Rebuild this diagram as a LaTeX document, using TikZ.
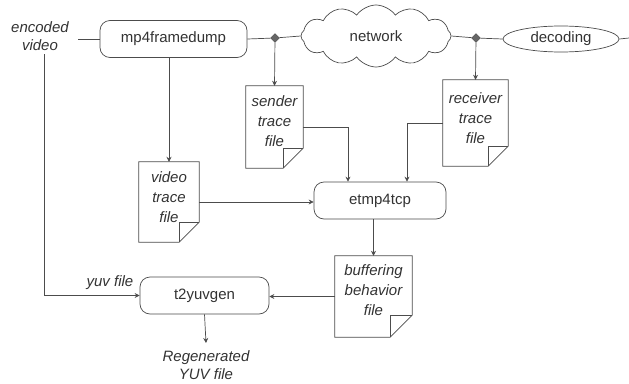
\documentclass[tikz,border=0pt]{standalone}
\usepackage{fontspec}
\setmainfont{Liberation Sans}
\usetikzlibrary{shapes.geometric,shapes.symbols,arrows.meta}
\begin{document}
\begin{tikzpicture}[x=1pt,y=-1pt,
  every node/.style={text=black!80, font=\fontsize{15}{19}\selectfont},
  ln/.style={draw=black!70, line width=0.7pt},
  arr/.style={ln, -{Stealth[length=5pt,width=5pt]}},
  procbox/.style={ln, rounded corners=10pt, minimum width=#1, minimum height=37, inner sep=0},
  docbox/.style={inner sep=0},
  doctext/.style={inner sep=0, align=center, font=\fontsize{15}{20}\selectfont\itshape},
  joint/.style={diamond, fill=black!60, draw=black!70, minimum size=9pt, inner sep=0},
  lbl/.style={align=center, font=\fontsize{15}{18}\selectfont\itshape}
]
\useasboundingbox[fill=white] (0,0) rectangle (629,383);
\newcommand\docoutline[2]{%
  \draw[ln] (#1.north west) -- (#1.north east) -- ([yshift=#2]#1.south east) -- ([xshift=-#2]#1.south east) -- (#1.south west) -- cycle;
  \draw[ln] ([xshift=-#2]#1.south east) -- ([xshift=-#2,yshift=#2]#1.south east) -- ([yshift=#2]#1.south east);}

\node[lbl] (enc) at (40,36) {encoded\\video};
\node[procbox=147] (mp4) at (173.5,39) {mp4framedump};
\node[joint] (d1) at (275,38) {};
\node[cloud, cloud puffs=12, cloud puff arc=110, aspect=2.8, ln, minimum width=150, minimum height=62, inner sep=0] (net) at (376,36) {network};
\node[joint] (d2) at (476,38) {};
\node[ellipse, ln, minimum width=116, minimum height=26, inner sep=0] (dec) at (561,39) {decoding};
\coordinate (out) at (629,38);

\node[docbox, minimum width=57, minimum height=82] (snd) at (274.5,127) {};
\docoutline{snd}{20}
\node[doctext] (sndt) at ([yshift=6]snd.center) {sender\\trace\\file};
\node[docbox, minimum width=65, minimum height=86] (rcv) at (475.5,123) {};
\docoutline{rcv}{20}
\node[doctext] (rcvt) at ([yshift=5]rcv.center) {receiver\\trace\\file};
\node[docbox, minimum width=60, minimum height=80] (vid) at (169,202) {};
\docoutline{vid}{20}
\node[doctext] (vidt) at ([yshift=5]vid.center) {video\\trace\\file};
\node[procbox=132] (etm) at (380,200.5) {etmp4tcp};
\node[docbox, minimum width=77, minimum height=81] (buf) at (373.5,296.5) {};
\docoutline{buf}{22}
\node[doctext] (buft) at ([yshift=6]buf.center) {buffering\\behavior\\file};
\node[procbox=129] (t2y) at (204.5,295.5) {t2yuvgen};
\node[lbl] (reg) at (206,365) {Regenerated\\YUV file};
\node[lbl] (yuv) at (110,283) {yuv file};

\draw[ln] ([xshift=6]enc.east |- mp4.west) -- (mp4.west);
\draw[ln] (mp4.east) -- (d1) -- (net.west);
\draw[ln] (net.east) -- (d2) -- (dec.west);
\draw[ln] (dec.east) -- (out);
\draw[arr] (d1) -- (snd.north);
\draw[arr] (d2) -- (rcv.north);
\draw[arr] (vid.north |- mp4.south) -- (vid.north);
\draw[arr] (snd.east) -| ([xshift=-32]etm.north);
\draw[arr] (rcv.west) -| ([xshift=27]etm.north);
\draw[arr] (vid.east) -- (vid.east -| etm.west);
\draw[arr] (buf.north |- etm.south) -- (buf.north);
\draw[arr] (buf.west) -- (buf.west -| t2y.east);
\draw[arr] ([xshift=4]enc.south) |- (t2y.west);
\draw[arr] (t2y.south) -- ([yshift=4]reg.north);
\end{tikzpicture}
\end{document}
